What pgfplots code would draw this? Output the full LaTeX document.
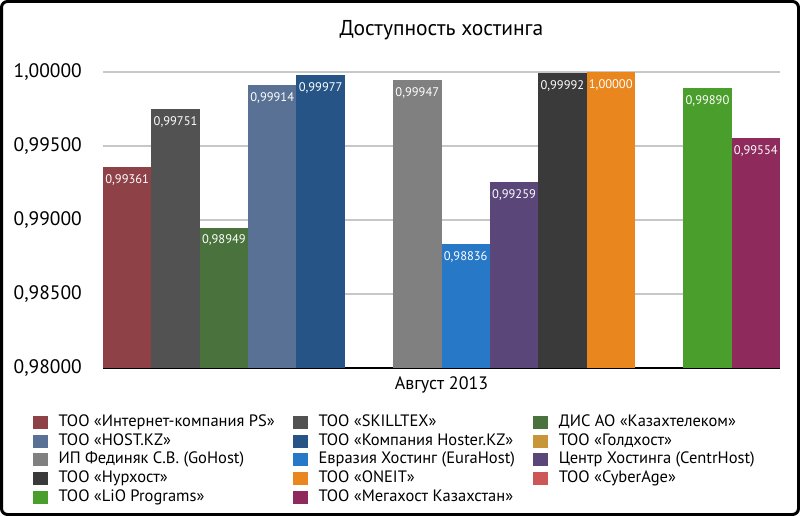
\documentclass[border=0pt]{standalone}
\usepackage{fontspec}
\setmainfont{PT Sans}
\usepackage{pgfplots}
\pgfplotsset{compat=1.18}

\definecolor{cPS}{RGB}{142,66,72}
\definecolor{cSkill}{RGB}{82,82,82}
\definecolor{cKaz}{RGB}{74,114,60}
\definecolor{cHostkz}{RGB}{88,113,148}
\definecolor{cHoster}{RGB}{38,84,134}
\definecolor{cGold}{RGB}{200,150,56}
\definecolor{cGoHost}{RGB}{128,128,128}
\definecolor{cEura}{RGB}{40,120,200}
\definecolor{cCentr}{RGB}{90,70,120}
\definecolor{cNur}{RGB}{58,58,58}
\definecolor{cOneit}{RGB}{234,134,30}
\definecolor{cCyber}{RGB}{205,86,86}
\definecolor{cLio}{RGB}{74,158,44}
\definecolor{cMega}{RGB}{142,42,92}

\begin{document}
\begin{tikzpicture}
\path[use as bounding box] (0pt,0pt) rectangle (800pt,-516pt);
\begin{axis}[
    at={(103pt,-368pt)}, anchor=south west,
    scale only axis, width=677pt, height=296pt,
    xmin=0, xmax=14, ymin=0.98, ymax=1,
    xtick=\empty,
    ytick={0.98,0.985,0.99,0.995,1},
    scaled y ticks=false,
    /pgf/number format/.cd, fixed, fixed zerofill, precision=5, use comma, assume math mode=true,
    /pgfplots/.cd,
    major tick length=0pt,
    yticklabel style={font=\fontsize{19.5}{19.5}\selectfont, anchor=east, inner sep=0pt, xshift=-21pt},
    axis lines*=left,
    y axis line style={draw=none},
    x axis line style={line width=1.3pt, black},
    ymajorgrids,
    grid style={line width=1.2pt, color=black!22},
    title={Доступность хостинга},
    title style={font=\fontsize{21.5}{21.5}\selectfont, at={(0.5,1)}, anchor=center, yshift=36pt},
    xlabel={Август 2013},
    xlabel style={font=\fontsize{18}{18}\selectfont, at={(0.5,0)}, anchor=center, yshift=-17pt},
    ybar, bar width=1,
    nodes near coords,
    every node near coord/.append style={font=\fontsize{12.5}{12.5}\selectfont, text=white, anchor=north, yshift=-4pt},
    legend columns=3,
    legend cell align=left,
    legend image code/.code={\fill[#1] (0pt,-6.5pt) rectangle (15pt,6.5pt);},
    legend style={draw=none, fill=none, inner sep=0pt,
        at={(-0.1034,-0.1507)}, anchor=north west,
        font=\fontsize{16.5}{16.5}\selectfont,
        nodes={inner sep=2.4pt, text height=11pt, text depth=3pt},
        /tikz/every odd column/.append style={column sep=8pt},
        /tikz/every even column/.append style={column sep=16pt}},
]
\addplot[bar shift=0pt, fill=cPS, draw=none] coordinates {(0.5,0.99361)};
\addlegendentry{ТОО «Интернет-компания PS»}
\addplot[bar shift=0pt, fill=cSkill, draw=none] coordinates {(1.5,0.99751)};
\addlegendentry{ТОО «SKILLTEX»}
\addplot[bar shift=0pt, fill=cKaz, draw=none] coordinates {(2.5,0.98949)};
\addlegendentry{ДИС АО «Казахтелеком»}
\addplot[bar shift=0pt, fill=cHostkz, draw=none] coordinates {(3.5,0.99914)};
\addlegendentry{ТОО «HOST.KZ»}
\addplot[bar shift=0pt, fill=cHoster, draw=none] coordinates {(4.5,0.99977)};
\addlegendentry{ТОО «Компания Hoster.KZ»}
\addlegendimage{fill=cGold, draw=none}
\addlegendentry{ТОО «Голдхост»}
\addplot[bar shift=0pt, fill=cGoHost, draw=none] coordinates {(6.5,0.99947)};
\addlegendentry{ИП Фединяк С.В. (GoHost)}
\addplot[bar shift=0pt, fill=cEura, draw=none] coordinates {(7.5,0.98836)};
\addlegendentry{Евразия Хостинг (EuraHost)}
\addplot[bar shift=0pt, fill=cCentr, draw=none] coordinates {(8.5,0.99259)};
\addlegendentry{Центр Хостинга (CentrHost)}
\addplot[bar shift=0pt, fill=cNur, draw=none] coordinates {(9.5,0.99992)};
\addlegendentry{ТОО «Нурхост»}
\addplot[bar shift=0pt, fill=cOneit, draw=none] coordinates {(10.5,1.00000)};
\addlegendentry{ТОО «ONEIT»}
\addlegendimage{fill=cCyber, draw=none}
\addlegendentry{ТОО «CyberAge»}
\addplot[bar shift=0pt, fill=cLio, draw=none] coordinates {(12.5,0.99890)};
\addlegendentry{ТОО «LiO Programs»}
\addplot[bar shift=0pt, fill=cMega, draw=none] coordinates {(13.5,0.99554)};
\addlegendentry{ТОО «Мегахост Казахстан»}
\end{axis}
\draw[line width=3pt, rounded corners=6pt] (1.5pt,-1.5pt) rectangle (798.5pt,-514.5pt);
\end{tikzpicture}
\end{document}
